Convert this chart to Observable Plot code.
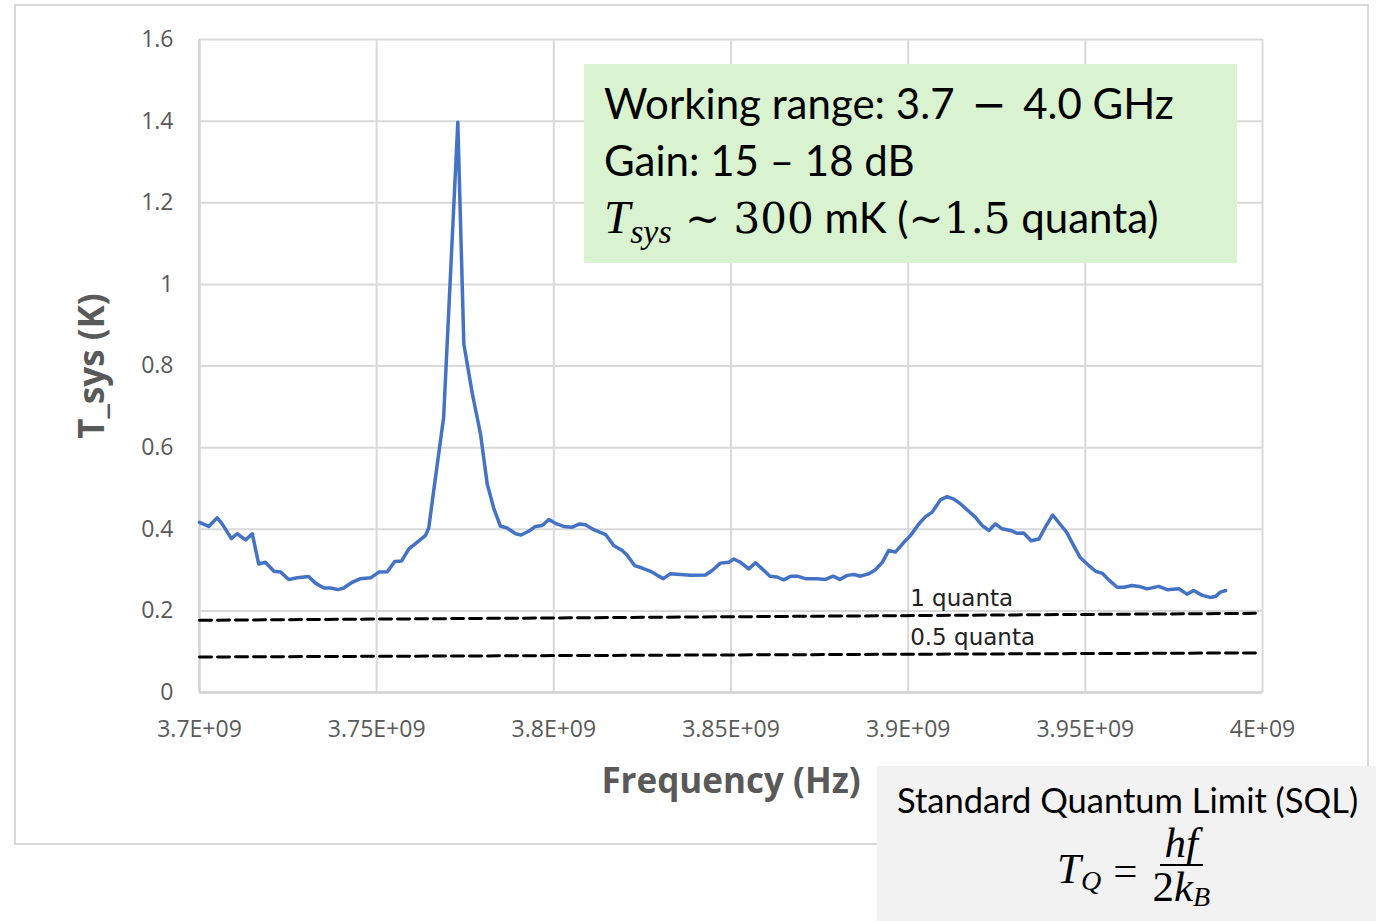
<!DOCTYPE html>
<html>
<head>
<meta charset="utf-8">
<script src="https://cdn.jsdelivr.net/npm/d3@7"></script>
<script src="https://cdn.jsdelivr.net/npm/@observablehq/plot@0.6"></script>
<style>
  html, body { margin: 0; padding: 0; background: #ffffff; }
  #wrap { position: relative; width: 1376px; height: 921px; overflow: hidden; }
  #frame { position: absolute; left: 14px; top: 4px; width: 1351px; height: 837px; border: 2px solid #d9d9d9; box-sizing: content-box; }
  #chart { position: absolute; left: 0; top: 0; }
  #info { position: absolute; left: 584px; top: 64px; width: 653px; height: 199px; background: #d9f2d0;
          font-family: Lato, "Open Sans", sans-serif; font-size: 42px; color: #000; line-height: 57px; }
  #info .ln { position: absolute; left: 20px; white-space: nowrap; }
  .m { font-family: "DejaVu Serif", "Liberation Serif", serif; }
  .mi { font-family: "Liberation Serif", "DejaVu Serif", serif; font-style: italic; }
  #sql { position: absolute; left: 877px; top: 766px; width: 499px; height: 155px; background: #f2f2f2;
         font-family: Lato, "Open Sans", sans-serif; color: #000; }
  #sql .t { position: absolute; left: 20px; top: 13px; font-size: 34.5px; white-space: nowrap; }
  #sql .f { position: absolute; left: 180px; top: 56px; font-family: "Liberation Serif", serif; font-size: 43px; display: flex; align-items: center; }
  .frac { display: inline-flex; flex-direction: column; align-items: center; margin-left: 10px; }
  .frac .num { padding: 0 5px; border-bottom: 2.5px solid #000; line-height: 42px; }
  .frac .den { padding: 0 5px; line-height: 42px; }
</style>
</head>
<body>
<div id="wrap">
  <div id="frame"></div>
  <div id="chart"></div>
  <div id="info">
    <div class="ln" style="top:11px">Working range: 3.7 <span class="m" style="margin:0 6px">−</span> 4.0 GHz</div>
    <div class="ln" style="top:68px">Gain: 15 – 18 dB</div>
    <div class="ln" style="top:125px"><span class="mi" style="font-size:47px">T<sub style="font-size:34px;vertical-align:-10px">sys</sub></span><span class="m" style="font-size:42px"> ~ 300</span> mK (<span class="m" style="font-size:42px">~1.5</span> quanta)</div>
  </div>
  <div id="sql">
    <div class="t">Standard Quantum Limit (SQL)</div>
    <div class="f"><span class="mi">T<sub style="font-size:28px;vertical-align:-7px">Q</sub></span><span style="margin-left:12px">=</span>
      <span class="frac"><span class="num mi">hf</span><span class="den"><span>2</span><span class="mi">k<sub style="font-size:28px;vertical-align:-5px">B</sub></span></span></span>
    </div>
  </div>
</div>
<script>
// ---- data ----
const freqGHz = [
  3.7000, 3.7026, 3.7050, 3.7064, 3.7090, 3.7106, 3.7130, 3.7149, 3.7167, 3.7186,
  3.7210, 3.7229, 3.7252, 3.7276, 3.7308, 3.7327, 3.7351, 3.7370, 3.7391, 3.7407,
  3.7431, 3.7454, 3.7483, 3.7506, 3.7530, 3.7551, 3.7570, 3.7591, 3.7614, 3.7638,
  3.7647, 3.7661, 3.7689, 3.7729, 3.7746, 3.7770, 3.7793, 3.7812, 3.7831, 3.7849,
  3.7868, 3.7892, 3.7908, 3.7929, 3.7948, 3.7967, 3.7986, 3.8008, 3.8028, 3.8052,
  3.8073, 3.8089, 3.8113, 3.8146, 3.8169, 3.8193, 3.8207, 3.8228, 3.8249, 3.8273,
  3.8292, 3.8309, 3.8329, 3.8357, 3.8386, 3.8428, 3.8447, 3.8470, 3.8494, 3.8508,
  3.8527, 3.8550, 3.8569, 3.8588, 3.8610, 3.8630, 3.8649, 3.8668, 3.8687, 3.8710,
  3.8743, 3.8767, 3.8788, 3.8807, 3.8828, 3.8847, 3.8865, 3.8889, 3.8908, 3.8927,
  3.8945, 3.8964, 3.8988, 3.9007, 3.9030, 3.9049, 3.9068, 3.9091, 3.9110, 3.9129,
  3.9148, 3.9167, 3.9190, 3.9209, 3.9228, 3.9246, 3.9265, 3.9289, 3.9308, 3.9326,
  3.9347, 3.9369, 3.9387, 3.9408, 3.9430, 3.9447, 3.9467, 3.9486, 3.9510, 3.9529,
  3.9548, 3.9566, 3.9590, 3.9609, 3.9632, 3.9651, 3.9675, 3.9707, 3.9731, 3.9764,
  3.9787, 3.9806, 3.9830, 3.9853, 3.9867, 3.9881, 3.9896
];
const tsysK = [
  0.417, 0.407, 0.428, 0.413, 0.377, 0.389, 0.374, 0.389, 0.315, 0.319,
  0.297, 0.295, 0.277, 0.281, 0.284, 0.268, 0.256, 0.256, 0.252, 0.256,
  0.270, 0.279, 0.281, 0.295, 0.296, 0.321, 0.322, 0.352, 0.368, 0.385,
  0.403, 0.495, 0.674, 1.397, 0.854, 0.732, 0.634, 0.511, 0.450, 0.408,
  0.403, 0.389, 0.386, 0.395, 0.407, 0.409, 0.424, 0.413, 0.407, 0.405,
  0.413, 0.411, 0.399, 0.387, 0.360, 0.348, 0.336, 0.311, 0.305, 0.297,
  0.287, 0.279, 0.291, 0.289, 0.287, 0.288, 0.299, 0.317, 0.319, 0.327,
  0.319, 0.303, 0.318, 0.303, 0.285, 0.283, 0.276, 0.285, 0.285, 0.279,
  0.279, 0.277, 0.285, 0.277, 0.287, 0.289, 0.285, 0.291, 0.301, 0.319,
  0.348, 0.344, 0.368, 0.385, 0.413, 0.431, 0.442, 0.472, 0.480, 0.474,
  0.462, 0.447, 0.429, 0.409, 0.397, 0.413, 0.401, 0.397, 0.390, 0.391,
  0.372, 0.376, 0.405, 0.435, 0.411, 0.393, 0.360, 0.330, 0.311, 0.297,
  0.292, 0.276, 0.258, 0.258, 0.262, 0.260, 0.254, 0.260, 0.252, 0.254,
  0.241, 0.250, 0.238, 0.233, 0.235, 0.246, 0.250
];
// SQL reference lines (endpoints)
const quantaNames = ["1 quanta", "0.5 quanta"];
const quantaFreq = [3.7000, 3.9980];
const quanta1 = [0.177, 0.194];
const quanta05 = [0.087, 0.097];

const xTicks = [3.70, 3.75, 3.80, 3.85, 3.90, 3.95, 4.00];
const xTickLabels = ["3.7E+09", "3.75E+09", "3.8E+09", "3.85E+09", "3.9E+09", "3.95E+09", "4E+09"];
const yTicks = [0, 0.2, 0.4, 0.6, 0.8, 1.0, 1.2, 1.4, 1.6];
const yTickLabels = ["0", "0.2", "0.4", "0.6", "0.8", "1", "1.2", "1.4", "1.6"];
const xTitle = "Frequency (Hz)";
const yTitle = "T_sys (K)";

// ---- tables ----
const tsys = freqGHz.map((f, i) => ({f, t: tsysK[i]}));
const q1 = quantaFreq.map((f, i) => ({f, t: quanta1[i]}));
const q05 = quantaFreq.map((f, i) => ({f, t: quanta05[i]}));
const lerp = (arr, f) => arr[0] + (arr[1] - arr[0]) * (f - quantaFreq[0]) / (quantaFreq[1] - quantaFreq[0]);
const qLabels = [
  {name: quantaNames[0], f: 3.9, t: lerp(quanta1, 3.9)},
  {name: quantaNames[1], f: 3.9, t: lerp(quanta05, 3.9)}
];

const gray = "#595959";
const chart = Plot.plot({
  width: 1376,
  height: 921,
  marginLeft: 199,
  marginRight: 114,
  marginTop: 39,
  marginBottom: 229,
  x: {domain: [3.7, 4.0]},
  y: {domain: [0, 1.6]},
  style: {background: "transparent", fontFamily: "'Open Sans', 'Noto Sans', sans-serif"},
  marks: [
    Plot.gridX(xTicks, {stroke: "#d9d9d9", strokeOpacity: 1, strokeWidth: 2}),
    Plot.gridY(yTicks, {stroke: "#d9d9d9", strokeOpacity: 1, strokeWidth: 2}),
    Plot.ruleY([0], {stroke: "#cfcfcf", strokeWidth: 2}),
    Plot.ruleX([3.7], {stroke: "#cfcfcf", strokeWidth: 2}),
    Plot.axisX(xTicks, {tickSize: 0, tickPadding: 28, fontSize: 23, fill: gray, label: null,
      tickFormat: d => xTickLabels[xTicks.indexOf(d)]}),
    Plot.axisY(yTicks, {tickSize: 0, tickPadding: 26, fontSize: 23, fill: gray, label: null,
      tickFormat: d => yTickLabels[yTicks.indexOf(d)]}),
    Plot.line(q1, {x: "f", y: "t", stroke: "#000", strokeWidth: 3, strokeDasharray: "12 6"}),
    Plot.line(q05, {x: "f", y: "t", stroke: "#000", strokeWidth: 3, strokeDasharray: "12 6"}),
    Plot.text(qLabels, {x: "f", y: "t", text: "name", textAnchor: "start", dx: 2, dy: -17,
      fontSize: 23, fill: "#222", fontFamily: "'DejaVu Sans', sans-serif"}),
    Plot.line(tsys, {x: "f", y: "t", stroke: "#4472c4", strokeWidth: 3.5, strokeLinejoin: "round"}),
    Plot.text([yTitle], {frameAnchor: "left", textAnchor: "middle", dx: -107, rotate: -90, fontSize: 35, fontWeight: "bold", fill: gray}),
    Plot.text([xTitle], {frameAnchor: "bottom", textAnchor: "middle", dy: 100, fontSize: 35, fontWeight: "bold", fill: gray})
  ]
});
document.getElementById("chart").appendChild(chart);
</script>
</body>
</html>
